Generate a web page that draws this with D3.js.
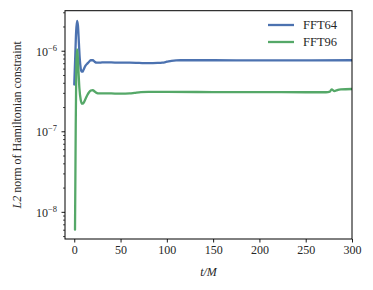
<!DOCTYPE html>
<html><head><meta charset="utf-8">
<script src="https://cdn.jsdelivr.net/npm/d3@7"></script>
<style>
html,body{margin:0;padding:0;background:#fff;}
svg{display:block;}
text{font-family:"Liberation Serif","Times New Roman",serif;fill:#262626;}
</style></head>
<body><svg id="c" width="373" height="290"></svg>
<script>
// ---- data ----
const seriesNames = ["FFT64", "FFT96"];
const colors = ["#4c72b0", "#55a868"];
const tFFT64 = [0, 1, 2, 3, 4, 5, 6, 7, 8, 9, 10, 12, 14, 16, 18, 20, 22, 24, 27, 30, 40, 50, 60, 70, 80, 90, 95, 100, 105, 110, 115, 150, 200, 250, 300];
const vFFT64 = [3.8e-7, 8e-7, 1.7e-6, 2.35e-6, 2.05e-6, 1.25e-6, 7.8e-7, 6.0e-7, 5.5e-7, 5.5e-7, 5.8e-7, 6.5e-7, 6.9e-7, 7.3e-7, 7.65e-7, 7.62e-7, 7.3e-7, 7.1e-7, 7.1e-7, 7.18e-7, 7.15e-7, 7.1e-7, 7.1e-7, 7.05e-7, 7.0e-7, 7.05e-7, 7.12e-7, 7.3e-7, 7.5e-7, 7.6e-7, 7.62e-7, 7.62e-7, 7.6e-7, 7.6e-7, 7.62e-7];
const tFFT96 = [0.8, 1.2, 1.6, 2.2, 2.9, 3.6, 4.5, 5.5, 7, 8.5, 10, 12, 14, 16, 18, 20, 22, 24, 27, 30, 40, 50, 60, 65, 72, 80, 100, 150, 200, 250, 272, 276, 278, 281, 284, 288, 300];
const vFFT96 = [6e-9, 2.5e-8, 1.2e-7, 6e-7, 1.04e-6, 9.2e-7, 5.8e-7, 3.5e-7, 2.45e-7, 2.2e-7, 2.25e-7, 2.5e-7, 2.8e-7, 3.05e-7, 3.2e-7, 3.25e-7, 3.12e-7, 3.0e-7, 2.95e-7, 2.96e-7, 2.95e-7, 2.93e-7, 2.95e-7, 3.0e-7, 3.07e-7, 3.08e-7, 3.08e-7, 3.07e-7, 3.06e-7, 3.05e-7, 3.05e-7, 3.1e-7, 3.32e-7, 3.15e-7, 3.25e-7, 3.32e-7, 3.35e-7];
const xTicks = [0, 50, 100, 150, 200, 250, 300];
const yTickExps = [-8, -7, -6];
const xDomain = [-10, 300];
const yDomain = [4.6e-9, 3.14e-6];

// ---- layout ----
const svg = d3.select("#c");
const L = 65, R = 352, T = 10.7, B = 239;
const x = d3.scaleLinear().domain(xDomain).range([L, R]);
const y = d3.scaleLog().domain(yDomain).range([B, T]);

svg.append("defs").append("clipPath").attr("id","clip")
  .append("rect").attr("x",L).attr("y",T).attr("width",R-L).attr("height",B-T);

const series = [
  {name: seriesNames[0], t: tFFT64, v: vFFT64, color: colors[0]},
  {name: seriesNames[1], t: tFFT96, v: vFFT96, color: colors[1]}
];
const line = d3.line().x(d=>x(d[0])).y(d=>y(d[1])).curve(d3.curveMonotoneX);
const g = svg.append("g").attr("clip-path","url(#clip)");
series.forEach(s=>{
  g.append("path").datum(s.t.map((t,i)=>[t,s.v[i]]))
    .attr("d", line).attr("fill","none").attr("stroke", s.color)
    .attr("stroke-width", 2.3).attr("stroke-linejoin","round").attr("stroke-linecap","round");
});

// axes
const xAxis = d3.axisBottom(x).tickValues(xTicks).tickSize(3.5).tickPadding(3).tickFormat(d3.format("d"));
const gx = svg.append("g").attr("transform",`translate(0,${B})`).call(xAxis);
gx.select(".domain").remove();
gx.selectAll("line").attr("stroke","#000").attr("stroke-width",0.9);
gx.selectAll("text").attr("font-size",12).attr("fill","#262626")
  .style("font-family","'Liberation Serif',serif");

const majors = yTickExps.map(e=>Math.pow(10,e));
const minors = [];
for (let e=-9; e<=-6; e++) for (let k=2; k<=9; k++){ const v=k*Math.pow(10,e); if (v>=yDomain[0] && v<=yDomain[1]) minors.push(v); }
const yAxisMinor = d3.axisLeft(y).tickValues(minors).tickSize(2).tickFormat("");
const gym = svg.append("g").attr("transform",`translate(${L},0)`).call(yAxisMinor);
gym.select(".domain").remove();
gym.selectAll("line").attr("stroke","#000").attr("stroke-width",0.7);
const yAxis = d3.axisLeft(y).tickValues(majors).tickSize(3.5).tickFormat("");
const gy = svg.append("g").attr("transform",`translate(${L},0)`).call(yAxis);
gy.select(".domain").remove();
gy.selectAll("line").attr("stroke","#000").attr("stroke-width",0.9);
gy.selectAll(".tick").each(function(d){
  const e = Math.round(Math.log10(d));
  const t = d3.select(this).append("text").attr("x",-8).attr("y",4.5)
    .attr("text-anchor","end").attr("font-size",12).attr("fill","#262626");
  t.append("tspan").text("10");
  t.append("tspan").attr("dy",-5).attr("font-size",8.5).text("\u2212"+Math.abs(e));
});

svg.append("rect").attr("x",L).attr("y",T).attr("width",R-L).attr("height",B-T)
  .attr("fill","none").attr("stroke","#000").attr("stroke-width",1);

svg.append("text").attr("x", (L+R)/2).attr("y", 276).attr("text-anchor","middle")
  .attr("font-size",12).attr("font-style","italic").text("t/M");
const yl = svg.append("text").attr("transform",`translate(21,${(T+B)/2}) rotate(-90)`)
  .attr("text-anchor","middle").attr("font-size",12);
yl.append("tspan").attr("font-style","italic").text("L2");
yl.append("tspan").text(" norm of Hamiltonian constraint");

series.forEach((s,i)=>{
  const ly = 25 + i*17;
  svg.append("line").attr("x1",268).attr("x2",294).attr("y1",ly).attr("y2",ly)
    .attr("stroke",s.color).attr("stroke-width",2.3);
  svg.append("text").attr("x",303).attr("y",ly+4.3).attr("font-size",12.5).text(s.name);
});
</script></body></html>
